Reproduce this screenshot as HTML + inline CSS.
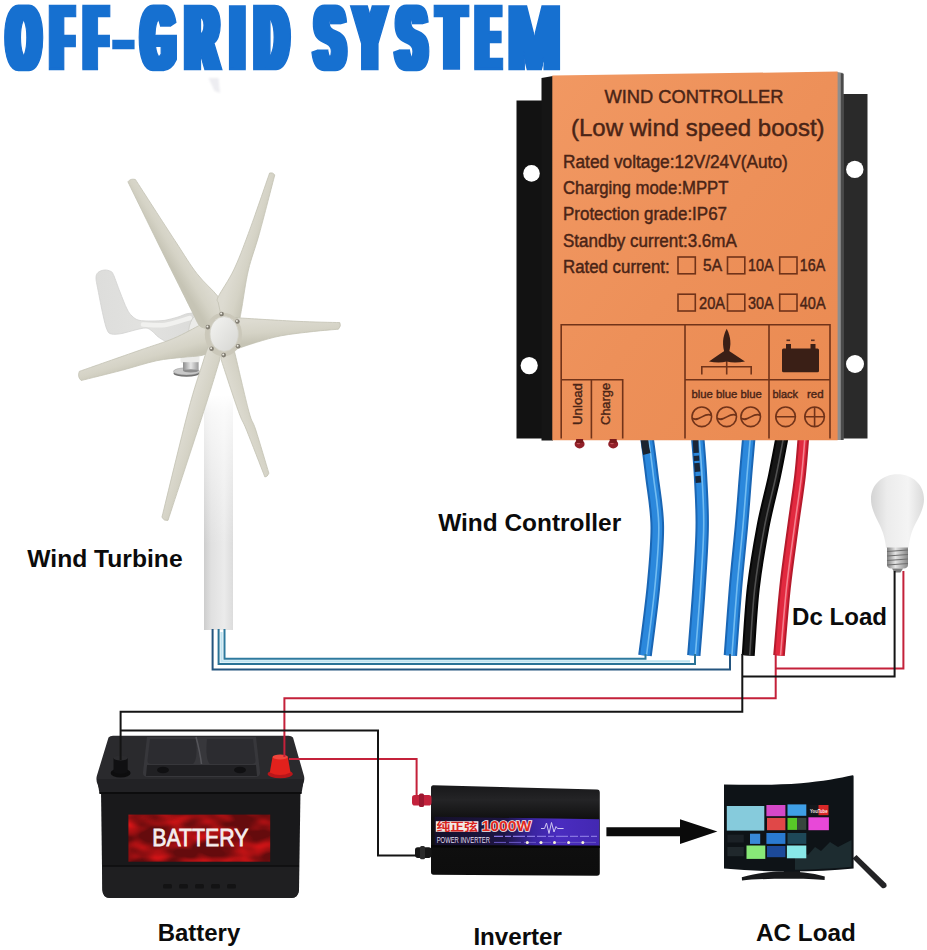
<!DOCTYPE html>
<html lang="en"><head><meta charset="utf-8"><title>Off-Grid System</title>
<style>
html,body{margin:0;padding:0;background:#fff;}
body{width:927px;height:950px;overflow:hidden;font-family:"Liberation Sans",sans-serif;}
svg{display:block}
.lbl{font-family:"Liberation Sans",sans-serif;font-weight:700;font-size:24px;fill:#0b0b0b}
.ct{font-family:"Liberation Sans",sans-serif;fill:#4a2416;stroke:#4a2416;stroke-width:0.45px}
</style></head><body>
<svg width="927" height="950" viewBox="0 0 927 950">
<defs>
<linearGradient id="tower" x1="0" x2="1" y1="0" y2="0"><stop offset="0" stop-color="#cdcdcd"/><stop offset="0.25" stop-color="#e0e0e0"/><stop offset="0.7" stop-color="#ebebeb"/><stop offset="1" stop-color="#dcdcdc"/></linearGradient>
<linearGradient id="towerfade" x1="0" x2="0" y1="0" y2="1"><stop offset="0" stop-color="#fff" stop-opacity="1"/><stop offset="0.12" stop-color="#fff" stop-opacity="0.75"/><stop offset="1" stop-color="#fff" stop-opacity="0"/></linearGradient>
<linearGradient id="orange" x1="0" x2="1" y1="0" y2="1"><stop offset="0" stop-color="#f19862"/><stop offset="0.5" stop-color="#ed9059"/><stop offset="1" stop-color="#ea8a51"/></linearGradient>
<linearGradient id="bulbg" x1="0" x2="1" y1="0" y2="0"><stop offset="0" stop-color="#d4d4d4"/><stop offset="0.3" stop-color="#ececec"/><stop offset="0.7" stop-color="#f4f4f4"/><stop offset="1" stop-color="#dadada"/></linearGradient>
<linearGradient id="screw" x1="0" x2="1" y1="0" y2="0"><stop offset="0" stop-color="#808080"/><stop offset="0.4" stop-color="#e4e4e4"/><stop offset="1" stop-color="#868686"/></linearGradient>
<linearGradient id="batlabel" x1="0" x2="1" y1="0" y2="0"><stop offset="0" stop-color="#7c1014"/><stop offset="0.25" stop-color="#b41a1e"/><stop offset="0.5" stop-color="#9a1418"/><stop offset="0.8" stop-color="#c82226"/><stop offset="1" stop-color="#8a1216"/></linearGradient>
<linearGradient id="stripe" x1="0" x2="1" y1="0" y2="0"><stop offset="0" stop-color="#15102a"/><stop offset="0.42" stop-color="#1d1544"/><stop offset="0.6" stop-color="#3b25a2"/><stop offset="0.75" stop-color="#4a2cc0"/><stop offset="1" stop-color="#4328b2"/></linearGradient>
<linearGradient id="hub" x1="0" x2="1" y1="0" y2="1"><stop offset="0" stop-color="#f4f4f2"/><stop offset="1" stop-color="#d6d6d2"/></linearGradient>
<linearGradient id="silver" x1="0" x2="1" y1="0" y2="0"><stop offset="0" stop-color="#8c8c8c"/><stop offset="0.5" stop-color="#e6e6e6"/><stop offset="1" stop-color="#9a9a9a"/></linearGradient>
<linearGradient id="tailg" x1="0" x2="1" y1="0" y2="0"><stop offset="0" stop-color="#dddddb"/><stop offset="0.45" stop-color="#e2e2e0"/><stop offset="1" stop-color="#dadad8"/></linearGradient>
<linearGradient id="invg" x1="0" x2="0" y1="0" y2="1"><stop offset="0" stop-color="#18181a"/><stop offset="0.16" stop-color="#242426"/><stop offset="0.36" stop-color="#111"/><stop offset="1" stop-color="#0d0d0d"/></linearGradient>

<filter id="fat" x="-5%" y="-20%" width="110%" height="140%"><feMorphology operator="dilate" radius="4.6 0"/></filter>
<filter id="mottle" x="0" y="0" width="1" height="1" color-interpolation-filters="sRGB"><feTurbulence type="fractalNoise" baseFrequency="0.035 0.07" numOctaves="2" seed="7" result="n"/><feColorMatrix in="n" type="matrix" values="0 0 0 0 0.86  0 0 0 0 0.08  0 0 0 0 0.09  2.3 0 0 0 -0.85" result="r"/><feComposite in="r" in2="SourceGraphic" operator="atop"/></filter>
<filter id="soft" x="-50%" y="-50%" width="200%" height="200%"><feGaussianBlur stdDeviation="1.3"/></filter>
</defs>
<rect width="927" height="950" fill="#fff"/>
<text id="title" filter="url(#fat)" y="68.8" stroke="#186fd0" stroke-width="2.4" stroke-linejoin="miter" font-family="Liberation Sans, sans-serif" font-weight="700" font-size="90.99" fill="#186fd0"><tspan x="8.04" textLength="31.46" lengthAdjust="spacingAndGlyphs">O</tspan><tspan x="52.01" textLength="20.01" lengthAdjust="spacingAndGlyphs">F</tspan><tspan x="85.44" textLength="20.61" lengthAdjust="spacingAndGlyphs">F</tspan><tspan x="116.57" dy="-9.3" font-size="60" textLength="13.90" lengthAdjust="spacingAndGlyphs">-</tspan><tspan x="142.54" dy="9.3" textLength="31.47" lengthAdjust="spacingAndGlyphs">G</tspan><tspan x="186.61" textLength="31.09" lengthAdjust="spacingAndGlyphs">R</tspan><tspan x="231.80" textLength="11.20" lengthAdjust="spacingAndGlyphs">I</tspan><tspan x="255.87" textLength="31.57" lengthAdjust="spacingAndGlyphs">D</tspan> <tspan x="315.78" textLength="28.17" lengthAdjust="spacingAndGlyphs">S</tspan><tspan x="354.95" textLength="29.56" lengthAdjust="spacingAndGlyphs">Y</tspan><tspan x="397.48" textLength="27.95" lengthAdjust="spacingAndGlyphs">S</tspan><tspan x="438.74" textLength="25.52" lengthAdjust="spacingAndGlyphs">T</tspan><tspan x="477.54" textLength="21.52" lengthAdjust="spacingAndGlyphs">E</tspan><tspan x="509.28" font-weight="400" textLength="49.93" lengthAdjust="spacingAndGlyphs">M</tspan></text>
<path d="M208.5 78 H218.5 L220 93 L214.5 91 Z" fill="#ededf1" filter="url(#soft)"/>
<g id="turbine">
<rect x="204" y="396" width="29" height="234" fill="url(#tower)"/>
<rect x="203" y="395" width="31" height="150" fill="url(#towerfade)"/>
<path d="M96.0 278.0 C96.0 275.1 96.6 273.8 98.0 272.5 C99.4 271.2 102.3 270.2 104.5 270.0 C106.7 269.8 109.5 270.6 111.0 271.5 C112.5 272.4 112.3 272.1 113.8 275.5 C115.3 278.9 117.8 286.4 120.0 292.0 C122.2 297.6 125.0 305.0 127.0 309.0 C129.0 313.0 130.0 314.1 132.0 316.0 C134.0 317.9 135.7 319.5 139.0 320.3 C142.3 321.1 147.7 321.0 152.0 321.0 C156.3 321.0 160.7 321.0 165.0 320.3 C169.3 319.6 174.0 318.1 178.0 317.0 C182.0 315.9 184.8 313.6 189.0 313.4 C193.2 313.2 200.5 309.9 203.0 316.0 C205.5 322.1 207.8 344.8 204.0 350.0 C200.2 355.2 186.2 348.4 180.0 347.0 C173.8 345.6 170.3 343.5 166.6 341.8 C162.9 340.1 160.4 338.5 158.0 336.7 C155.6 334.9 154.0 332.4 152.0 331.0 C150.0 329.6 148.8 328.2 146.0 328.0 C143.2 327.8 139.0 329.1 135.0 330.0 C131.0 330.9 125.9 332.8 122.0 333.5 C118.1 334.2 113.9 334.6 111.4 334.0 C108.9 333.4 108.4 332.9 107.0 329.7 C105.6 326.5 104.5 321.6 103.0 315.0 C101.5 308.4 99.2 296.2 98.0 290.0 C96.8 283.8 96.0 280.9 96.0 278.0 Z" fill="url(#tailg)" stroke="#d2d2d0" stroke-width="0.8"/>
<path d="M143.0 324.5 C146.7 324.6 157.2 326.1 165.0 325.0 C172.8 323.9 185.8 319.2 190.0 318.0" fill="none" stroke="#f1f1ef" stroke-width="4.5" stroke-linecap="round"/>
<ellipse cx="201" cy="334" rx="12.5" ry="21" fill="#ebebe9" stroke="#cfcfcb" stroke-width="0.9"/>
<rect x="180.5" y="355" width="19" height="8" rx="2" fill="#ececea"/>
<ellipse cx="186.5" cy="373.2" rx="13" ry="3.6" fill="#6f6f6f"/>
<ellipse cx="186.5" cy="371.4" rx="13" ry="3.6" fill="#c9c9c9" stroke="#9a9a9a" stroke-width="0.5"/>
<rect x="183" y="362.2" width="15.6" height="8.6" fill="url(#silver)"/>
<ellipse cx="190.8" cy="370.8" rx="7.8" ry="1.6" fill="#8d8d8d"/>
<linearGradient id="bg0" gradientUnits="userSpaceOnUse" x1="178.5" y1="336.0" x2="184.6" y2="357.2"><stop offset="0" stop-color="#dddbd1"/><stop offset="0.55" stop-color="#d5d3c6"/><stop offset="1" stop-color="#c6c4b5"/></linearGradient>
<path d="M208.0 322.0 C206.8 322.4 206.7 321.9 201.0 324.6 C195.3 327.3 183.9 334.1 173.6 338.4 C163.3 342.7 154.7 345.0 139.0 350.5 C123.3 356.0 89.2 367.9 79.3 371.4 Q77.2 377.0 81.2 380.5 C88.0 378.8 109.3 373.6 121.8 370.3 C134.3 367.0 146.2 363.0 156.3 360.8 C166.4 358.6 174.8 358.3 182.2 357.4 C189.6 356.5 196.4 356.5 201.0 355.6 C205.6 354.7 208.5 352.6 210.0 352.0 L225.0 334.0 Z" fill="url(#bg0)" stroke="#c3c1b3" stroke-width="0.8" stroke-linejoin="round"/>
<linearGradient id="bg1" gradientUnits="userSpaceOnUse" x1="206.4" y1="282.3" x2="187.6" y2="293.7"><stop offset="0" stop-color="#dddbd1"/><stop offset="0.55" stop-color="#d5d3c6"/><stop offset="1" stop-color="#c6c4b5"/></linearGradient>
<path d="M204.0 328.0 C203.2 327.5 200.8 327.6 198.9 325.0 C197.0 322.4 195.5 318.3 192.4 312.2 C189.3 306.1 185.5 298.5 180.5 288.4 C175.5 278.3 171.0 269.5 162.2 251.7 C153.4 233.9 133.6 193.5 127.9 181.8 Q130.4 178.2 135.4 179.5 C142.0 189.7 164.7 225.0 175.0 240.7 C185.3 256.4 189.8 264.4 197.0 273.7 C204.2 283.0 212.3 289.2 218.1 296.6 C223.9 304.0 229.7 314.4 232.0 318.0 L225.0 334.0 Z" fill="url(#bg1)" stroke="#c3c1b3" stroke-width="0.8" stroke-linejoin="round"/>
<linearGradient id="bg2" gradientUnits="userSpaceOnUse" x1="228.6" y1="282.9" x2="249.7" y2="289.1"><stop offset="0" stop-color="#dddbd1"/><stop offset="0.55" stop-color="#d5d3c6"/><stop offset="1" stop-color="#c6c4b5"/></linearGradient>
<path d="M218.1 302.0 C218.1 301.1 215.7 301.9 218.3 296.6 C220.9 291.3 228.7 280.5 233.7 270.0 C238.7 259.5 242.4 249.6 248.4 233.4 C254.4 217.2 266.1 183.1 269.6 173.0 Q272.8 172.1 274.8 174.9 C272.2 184.7 263.8 217.6 259.4 233.4 C255.0 249.2 251.3 257.8 248.4 270.0 C245.5 282.2 243.4 298.8 242.0 306.7 C240.6 314.6 240.4 315.9 240.1 317.7 L225.0 334.0 Z" fill="url(#bg2)" stroke="#c3c1b3" stroke-width="0.8" stroke-linejoin="round"/>
<linearGradient id="bg3" gradientUnits="userSpaceOnUse" x1="258.5" y1="320.6" x2="260.0" y2="342.5"><stop offset="0" stop-color="#dddbd1"/><stop offset="0.55" stop-color="#d5d3c6"/><stop offset="1" stop-color="#c6c4b5"/></linearGradient>
<path d="M238.0 317.5 C238.4 317.6 230.7 317.4 240.5 318.0 C250.3 318.6 280.4 320.5 297.0 321.3 C313.6 322.1 332.7 322.4 339.8 322.6 Q341.5 326.0 338.4 329.2 C334.2 329.6 322.9 330.4 313.3 331.5 C303.7 332.6 290.4 334.0 281.0 335.8 C271.6 337.6 264.3 340.0 256.6 342.3 C248.9 344.6 238.4 348.4 234.8 349.6 L225.0 334.0 Z" fill="url(#bg3)" stroke="#c3c1b3" stroke-width="0.8" stroke-linejoin="round"/>
<linearGradient id="bg4" gradientUnits="userSpaceOnUse" x1="227.0" y1="379.5" x2="248.1" y2="373.2"><stop offset="0" stop-color="#dddbd1"/><stop offset="0.55" stop-color="#d5d3c6"/><stop offset="1" stop-color="#c6c4b5"/></linearGradient>
<path d="M234.8 352.8 C237.2 362.6 245.4 398.7 248.9 411.6 C252.4 424.5 252.5 419.7 255.8 430.0 C259.1 440.3 266.7 466.0 268.9 473.2 Q267.5 476.9 264.9 477.0 C261.8 469.2 250.9 440.9 246.5 430.0 C242.1 419.1 242.8 423.4 238.5 411.6 C234.2 399.8 223.9 368.0 221.0 359.3 L225.0 334.0 Z" fill="url(#bg4)" stroke="#c3c1b3" stroke-width="0.8" stroke-linejoin="round"/>
<linearGradient id="bg5" gradientUnits="userSpaceOnUse" x1="196.5" y1="386.1" x2="217.4" y2="392.9"><stop offset="0" stop-color="#dddbd1"/><stop offset="0.55" stop-color="#d5d3c6"/><stop offset="1" stop-color="#c6c4b5"/></linearGradient>
<path d="M219.4 361.0 C216.8 369.4 212.3 385.0 203.7 411.6 C195.1 438.2 173.9 502.3 168.0 520.4 Q164.2 521.2 161.9 517.4 C166.2 499.8 181.2 437.5 188.0 411.6 C194.8 385.7 199.7 372.8 203.0 362.0 C206.3 351.2 207.2 349.5 208.0 347.0 L225.0 334.0 Z" fill="url(#bg5)" stroke="#c3c1b3" stroke-width="0.8" stroke-linejoin="round"/>
<ellipse cx="223.4" cy="334.5" rx="18.6" ry="21.8" fill="#cbc8ba"/>
<circle cx="221.6" cy="314.1" r="2.3" fill="#817d72"/>
<circle cx="221.1" cy="313.5" r="1" fill="#efede4"/>
<circle cx="237.4" cy="321.5" r="2.3" fill="#817d72"/>
<circle cx="236.9" cy="320.9" r="1" fill="#efede4"/>
<circle cx="238.1" cy="346.3" r="2.3" fill="#817d72"/>
<circle cx="237.6" cy="345.7" r="1" fill="#efede4"/>
<circle cx="223.7" cy="355.1" r="2.3" fill="#817d72"/>
<circle cx="223.2" cy="354.5" r="1" fill="#efede4"/>
<circle cx="211.6" cy="348.8" r="2.3" fill="#817d72"/>
<circle cx="211.1" cy="348.2" r="1" fill="#efede4"/>
<circle cx="207.9" cy="327.1" r="2.3" fill="#817d72"/>
<circle cx="207.4" cy="326.5" r="1" fill="#efede4"/>
<ellipse cx="224.2" cy="334" rx="14.2" ry="17.4" fill="url(#hub)" stroke="#d2d0c6" stroke-width="0.8"/>
</g>
<g id="wires" fill="none" stroke-linecap="butt">
<path d="M647.0 438.0 C647.8 444.3 650.2 461.2 651.9 476.0 C653.6 490.8 657.1 507.9 657.3 526.6 C657.5 545.3 655.3 566.5 653.3 588.0 C651.2 609.5 646.4 644.2 645.0 655.5" stroke="#1a66b4" stroke-width="13.6"/>
<path d="M647.0 438.0 C647.8 444.3 650.2 461.2 651.9 476.0 C653.6 490.8 657.1 507.9 657.3 526.6 C657.5 545.3 655.3 566.5 653.3 588.0 C651.2 609.5 646.4 644.2 645.0 655.5" stroke="#2b88dc" stroke-width="9.6"/>
<path d="M647.0 438.0 C647.8 444.3 650.2 461.2 651.9 476.0 C653.6 490.8 657.1 507.9 657.3 526.6 C657.5 545.3 655.3 566.5 653.3 588.0 C651.2 609.5 646.4 644.2 645.0 655.5" stroke="#7fc6f5" stroke-width="1.6" transform="translate(1.5 0)" stroke-opacity="0.85"/>
<path d="M697.7 438.0 C698.2 444.3 699.8 461.2 700.5 476.0 C701.2 490.8 702.5 507.9 702.2 526.6 C702.0 545.3 700.4 566.5 699.0 588.0 C697.6 609.5 694.7 644.2 693.8 655.5" stroke="#1a66b4" stroke-width="13.4"/>
<path d="M697.7 438.0 C698.2 444.3 699.8 461.2 700.5 476.0 C701.2 490.8 702.5 507.9 702.2 526.6 C702.0 545.3 700.4 566.5 699.0 588.0 C697.6 609.5 694.7 644.2 693.8 655.5" stroke="#2b88dc" stroke-width="9.4"/>
<path d="M697.7 438.0 C698.2 444.3 699.8 461.2 700.5 476.0 C701.2 490.8 702.5 507.9 702.2 526.6 C702.0 545.3 700.4 566.5 699.0 588.0 C697.6 609.5 694.7 644.2 693.8 655.5" stroke="#7fc6f5" stroke-width="1.6" transform="translate(1.5 0)" stroke-opacity="0.85"/>
<path d="M748.8 438.0 C748.2 444.3 746.7 461.2 745.5 476.0 C744.3 490.8 743.1 507.9 741.4 526.6 C739.7 545.3 737.3 566.5 735.5 588.0 C733.7 609.5 731.2 644.2 730.4 655.5" stroke="#1a66b4" stroke-width="13.4"/>
<path d="M748.8 438.0 C748.2 444.3 746.7 461.2 745.5 476.0 C744.3 490.8 743.1 507.9 741.4 526.6 C739.7 545.3 737.3 566.5 735.5 588.0 C733.7 609.5 731.2 644.2 730.4 655.5" stroke="#2b88dc" stroke-width="9.4"/>
<path d="M748.8 438.0 C748.2 444.3 746.7 461.2 745.5 476.0 C744.3 490.8 743.1 507.9 741.4 526.6 C739.7 545.3 737.3 566.5 735.5 588.0 C733.7 609.5 731.2 644.2 730.4 655.5" stroke="#7fc6f5" stroke-width="1.6" transform="translate(1.5 0)" stroke-opacity="0.85"/>
<path d="M781.9 438.0 C780.7 444.3 777.6 461.2 774.5 476.0 C771.4 490.8 766.5 507.9 763.0 526.6 C759.5 545.3 755.8 566.5 753.3 588.0 C750.8 609.5 749.1 644.2 748.2 655.5" stroke="#050505" stroke-width="13.0"/>
<path d="M781.9 438.0 C780.7 444.3 777.6 461.2 774.5 476.0 C771.4 490.8 766.5 507.9 763.0 526.6 C759.5 545.3 755.8 566.5 753.3 588.0 C750.8 609.5 749.1 644.2 748.2 655.5" stroke="#161616" stroke-width="9.0"/>
<path d="M781.9 438.0 C780.7 444.3 777.6 461.2 774.5 476.0 C771.4 490.8 766.5 507.9 763.0 526.6 C759.5 545.3 755.8 566.5 753.3 588.0 C750.8 609.5 749.1 644.2 748.2 655.5" stroke="#5a5a5a" stroke-width="1.6" transform="translate(1.5 0)" stroke-opacity="0.85"/>
<path d="M803.4 438.0 C802.8 444.3 801.7 461.2 800.0 476.0 C798.3 490.8 795.5 507.9 793.0 526.6 C790.5 545.3 787.3 566.5 785.0 588.0 C782.7 609.5 780.0 644.2 779.0 655.5" stroke="#b51a2c" stroke-width="11.6"/>
<path d="M803.4 438.0 C802.8 444.3 801.7 461.2 800.0 476.0 C798.3 490.8 795.5 507.9 793.0 526.6 C790.5 545.3 787.3 566.5 785.0 588.0 C782.7 609.5 780.0 644.2 779.0 655.5" stroke="#e2293f" stroke-width="7.6"/>
<path d="M803.4 438.0 C802.8 444.3 801.7 461.2 800.0 476.0 C798.3 490.8 795.5 507.9 793.0 526.6 C790.5 545.3 787.3 566.5 785.0 588.0 C782.7 609.5 780.0 644.2 779.0 655.5" stroke="#f7919c" stroke-width="1.6" transform="translate(1.5 0)" stroke-opacity="0.85"/>
<path d="M644.5 440 C645 445 645.6 449 646.8 454" stroke="#1b2430" stroke-width="7.5"/>
<path d="M695.6 440 C696 455 697.4 470 699 489" stroke="#1a2638" stroke-width="5.5" stroke-dasharray="13 3 5 2 9 4 7 30"/>
</g>
<g id="controller">
<path d="M516.5 100.5 H545 V438.6 H516.5 Z" fill="#121212"/>
<path d="M841 94 H867.5 V438.6 H841 Z" fill="#2a2a2a"/>
<path d="M541.5 78 L553 76 V440.5 H541.5 Z" fill="#151515"/>
<path d="M837 72 L843.3 73 V440 H837 Z" fill="#8e8e8e"/>
<path d="M840.8 73 L843.6 74 V440 H840.8 Z" fill="#4a4a4a"/>
<path d="M552.3 75.5 L837.6 71.6 V440.3 H552.3 Z" fill="url(#orange)"/>
<circle cx="531.5" cy="173.4" r="8.3" fill="#fff"/>
<circle cx="529.2" cy="365.6" r="8.6" fill="#fff"/>
<circle cx="854.8" cy="169.4" r="8.7" fill="#fff"/>
<circle cx="855" cy="364" r="9" fill="#fff"/>
<ellipse cx="579.6" cy="444" rx="5" ry="4.4" fill="#93212a"/>
<ellipse cx="578.4" cy="443" rx="1.8" ry="1.3" fill="#c2545a"/>
<rect x="576.1" y="439" width="7" height="4" fill="#7a1a1c"/>
<ellipse cx="613.2" cy="444" rx="5" ry="4.4" fill="#93212a"/>
<ellipse cx="612.0" cy="443" rx="1.8" ry="1.3" fill="#c2545a"/>
<rect x="609.7" y="439" width="7" height="4" fill="#7a1a1c"/>
<text class="ct" x="604.4" y="102.7" font-size="19.0" textLength="179.1" lengthAdjust="spacingAndGlyphs">WIND CONTROLLER</text>
<text class="ct" x="571.0" y="136.0" font-size="23.8" textLength="253.6" lengthAdjust="spacingAndGlyphs">(Low wind speed boost)</text>
<text class="ct" x="563.0" y="168.2" font-size="17.6" textLength="224.8" lengthAdjust="spacingAndGlyphs">Rated voltage:12V/24V(Auto)</text>
<text class="ct" x="563.0" y="194.3" font-size="17.6" textLength="165.5" lengthAdjust="spacingAndGlyphs">Charging mode:MPPT</text>
<text class="ct" x="563.0" y="220.4" font-size="17.6" textLength="164.0" lengthAdjust="spacingAndGlyphs">Protection grade:IP67</text>
<text class="ct" x="563.0" y="246.5" font-size="17.6" textLength="173.8" lengthAdjust="spacingAndGlyphs">Standby current:3.6mA</text>
<text class="ct" x="563.0" y="272.5" font-size="17.6" textLength="106.7" lengthAdjust="spacingAndGlyphs">Rated current:</text>
<text class="ct" x="703.0" y="271.4" font-size="17.0" textLength="19.0" lengthAdjust="spacingAndGlyphs">5A</text>
<text class="ct" x="748.0" y="271.4" font-size="17.0" textLength="25.7" lengthAdjust="spacingAndGlyphs">10A</text>
<text class="ct" x="799.8" y="271.4" font-size="17.0" textLength="25.4" lengthAdjust="spacingAndGlyphs">16A</text>
<text class="ct" x="699.0" y="309.0" font-size="17.0" textLength="26.0" lengthAdjust="spacingAndGlyphs">20A</text>
<text class="ct" x="748.0" y="309.0" font-size="17.0" textLength="25.7" lengthAdjust="spacingAndGlyphs">30A</text>
<text class="ct" x="799.8" y="309.0" font-size="17.0" textLength="25.8" lengthAdjust="spacingAndGlyphs">40A</text>
<g fill="none" stroke="#713319" stroke-width="1.6">
<rect x="678.0" y="257" width="17.3" height="16.8"/>
<rect x="678.0" y="294.2" width="17.3" height="16.8"/>
<rect x="727.5" y="257" width="17.3" height="16.8"/>
<rect x="727.5" y="294.2" width="17.3" height="16.8"/>
<rect x="779.7" y="257" width="17.3" height="16.8"/>
<rect x="779.7" y="294.2" width="17.3" height="16.8"/>
<path d="M561.2 438.5 V324.7 H830 V438.5 M685 324.7 V438.5 M769 324.7 V438.5 M561.2 379.8 H622.7 V438.5 M591.4 379.8 V438.5 M685 379.8 H830"/>
<circle cx="701.8" cy="416.8" r="9.8"/>
<circle cx="726.7" cy="416.8" r="9.8"/>
<circle cx="750.7" cy="416.8" r="9.8"/>
<circle cx="785.6" cy="416.8" r="9.8"/>
<circle cx="814.6" cy="416.8" r="9.8"/>
<path d="M692.2 418.2 C698.8 423 704.8 411 711.4 415.4"/>
<path d="M717.1 418.2 C723.7 423 729.7 411 736.3 415.4"/>
<path d="M741.1 418.2 C747.7 423 753.7 411 760.3 415.4"/>
<path d="M775.8 416.8 H795.4 M804.8 416.8 H824.4 M814.6 407 V426.6"/>
<path d="M701.8 374.6 V366.8 H751.2 V374.6 M726.7 354 V374.6"/>
</g>
<path d="M726.7 328.8 C731 337 731.6 345 728.2 355 L725.2 355 C721.8 345 722.4 337 726.7 328.8 Z" fill="#3a1f16"/>
<path d="M726.7 349.5 C722 352.5 715 357.5 709 361.4 C715 362.8 721.5 362.8 726.7 361.6 C732 362.8 738.5 362.8 745 361.4 C738.5 357.5 731.5 352.5 726.7 349.5 Z" fill="#3a1f16"/>
<rect x="782" y="348.5" width="37" height="23.8" rx="1.5" fill="#3a1f16"/>
<rect x="786" y="344" width="5" height="5" fill="#3a1f16"/><rect x="810.5" y="344" width="5" height="5" fill="#3a1f16"/>
<rect x="786.5" y="339.5" width="3.6" height="1.6" fill="#5a3020"/><rect x="811" y="339.5" width="3.6" height="1.6" fill="#5a3020"/>
<text class="ct" x="691.4" y="398.3" font-size="11.5" textLength="70.5" lengthAdjust="spacingAndGlyphs" style="stroke-width:0.4px">blue blue blue</text>
<text class="ct" x="772.5" y="398.3" font-size="11.5" textLength="25.5" lengthAdjust="spacingAndGlyphs" style="stroke-width:0.4px">black</text>
<text class="ct" x="807.0" y="398.3" font-size="11.5" textLength="16.6" lengthAdjust="spacingAndGlyphs" style="stroke-width:0.4px">red</text>
<text class="ct" style="stroke-width:0.4px" font-size="13" textLength="42" lengthAdjust="spacingAndGlyphs" transform="translate(581.6 425) rotate(-90)">Unload</text>
<text class="ct" style="stroke-width:0.4px" font-size="13" textLength="42" lengthAdjust="spacingAndGlyphs" transform="translate(610.4 425) rotate(-90)">Charge</text>
</g>
<g id="bulb">
<path d="M897.5 474.2 C913 474.2 924 485 924 499 C924 512 915 522 911.5 533 C910 538 909 543 908.6 548 H886 C885.6 543 884.6 538 883 533 C879.5 522 871 512 871 499 C871 485 882 474.2 897.5 474.2 Z" fill="url(#bulbg)"/>
<path d="M887 547.5 H908 V565 C908 567 906 568.5 904 568.5 H891 C889 568.5 887 567 887 565 Z" fill="url(#screw)"/>
<path d="M887 551.5 L908 550.0" stroke="#6e6e6e" stroke-width="1.2"/>
<path d="M887 556.0 L908 554.5" stroke="#6e6e6e" stroke-width="1.2"/>
<path d="M887 560.5 L908 559.0" stroke="#6e6e6e" stroke-width="1.2"/>
<path d="M887 565.0 L908 563.5" stroke="#6e6e6e" stroke-width="1.2"/>
<path d="M892 568.5 H903 L900.5 572.5 H894.5 Z" fill="#7c7c7c"/>
</g>
<g id="battery">
<path d="M108.5 737.5 Q110 735.8 113 735.8 H288.5 Q291.5 735.8 293 737.5 L304 776 Q305 780 303 784 L300.5 792 H100.5 L97.5 784 Q95.8 780 96.8 776 Z" fill="#2a2a2d"/>
<path d="M101 790 H300.5 L299 890 Q298.7 897.8 291 898 H110 Q102.6 897.8 102.3 890 Z" fill="#19191b"/>
<path d="M97 779 H304 L301.5 793.5 H99.5 Z" fill="#222225"/>
<path d="M99.5 793 H301.5" stroke="#0c0c0d" stroke-width="2"/>
<path d="M102.5 866 H299 L298.8 890 Q298.5 897.8 291 898 H110 Q102.8 897.8 102.5 890 Z" fill="#1f1f21"/>
<path d="M102.5 866 H299" stroke="#0e0e0f" stroke-width="1.4"/>
<path d="M147 737 H256 L260 772 Q260.5 777 255 777 H148 Q142.5 777 143 772 Z" fill="#37373b"/>
<path d="M150 739 H196 Q198 760 193 764 H151 Q147 764 147.5 760 Z" fill="#2c2c30"/>
<path d="M207 739 H253 L255.5 760 Q256 764 252 764 H210 Q205 760 207 739 Z" fill="#2c2c30"/>
<path d="M196 737 Q200 752 201.5 764" stroke="#55555a" stroke-width="1.5" fill="none"/>
<path d="M147 765 H256 L257 776 H146 Z" fill="#202023"/>
<ellipse cx="163" cy="770" rx="6" ry="3.2" fill="#101012"/><ellipse cx="240" cy="770" rx="6" ry="3.2" fill="#101012"/>
<ellipse cx="120.6" cy="773" rx="10" ry="4.5" fill="#0d0d0e"/>
<path d="M113.5 758 H127.7 V772 Q120.6 776 113.5 772 Z" fill="#101012"/>
<ellipse cx="120.6" cy="758" rx="7.1" ry="2.6" fill="#2c2c2f"/>
<ellipse cx="280.2" cy="774" rx="12.6" ry="4.2" fill="#b8161a"/>
<path d="M272.5 757 Q280 753.5 287.8 757 L290.5 772.5 Q280 777.5 269.8 772.5 Z" fill="#e2211c"/>
<ellipse cx="280.2" cy="757" rx="7.6" ry="2.4" fill="#f0463c"/>
<rect x="128.4" y="814.6" width="141.8" height="47.1" fill="#650b0d" filter="url(#mottle)"/>
<text x="152.3" y="846.4" font-family="Liberation Sans, sans-serif" font-size="24" fill="#f6eeee" stroke="#f6eeee" stroke-width="0.8" textLength="96" lengthAdjust="spacingAndGlyphs">BATTERY</text>
<rect x="163" y="884" width="9" height="4.5" rx="1.5" fill="#131314"/>
<rect x="179" y="884" width="9" height="4.5" rx="1.5" fill="#131314"/>
<rect x="195" y="884" width="9" height="4.5" rx="1.5" fill="#131314"/>
<rect x="211" y="884" width="9" height="4.5" rx="1.5" fill="#131314"/>
<rect x="227" y="884" width="9" height="4.5" rx="1.5" fill="#131314"/>
</g>
<g id="inverter">
<path d="M433.5 785.3 L597 789.6 Q599.8 789.7 599.8 792.5 V873 Q599.8 875.8 597 875.8 L433.5 874.7 Q431 874.7 431 872 V788 Q431 785.2 433.5 785.3 Z" fill="url(#invg)"/>
<path d="M434.6 816.8 L599.4 819.2 V845.8 L434.6 845.2 Z" fill="url(#stripe)"/>
<path d="M431 845.2 L599.8 845.8 V848 L431 847.4 Z" fill="#060606"/>
<rect x="412" y="795" width="19.5" height="10.6" rx="2.8" fill="#c3223c"/><rect x="419" y="793.6" width="5" height="13.4" rx="1.5" fill="#9c1730"/>
<rect x="415" y="847.3" width="16.5" height="10.6" rx="2.8" fill="#161616"/><rect x="420" y="846" width="5" height="13.2" rx="1.5" fill="#2b2b2b"/>
<rect x="435.8" y="821.2" width="42.6" height="10.6" fill="#f3e9e6"/>
<text x="436.4" y="830.6" font-family="Liberation Sans, Noto Sans CJK SC, sans-serif" font-weight="700" font-size="11.8" fill="#d8241f" textLength="41.4" lengthAdjust="spacingAndGlyphs">纯正弦</text>
<text x="481.6" y="831.4" font-family="Liberation Sans, sans-serif" font-weight="700" font-size="14.2" fill="#e02a22" stroke="#f6eeee" stroke-width="1.5" paint-order="stroke" textLength="49.6" lengthAdjust="spacingAndGlyphs">1000W</text>
<path d="M541 828.5 H544.5 L546.5 823 L549 833.5 L551.5 822.5 L554 832 L556 826.5 L557.5 828.5 H563.6" fill="none" stroke="#cfc6f2" stroke-width="1"/>
<text x="436.7" y="842.6" font-family="Liberation Sans, sans-serif" font-size="9.4" fill="#e2def0" textLength="53.3" lengthAdjust="spacingAndGlyphs">POWER INVERTER</text>
<path d="M494 836.4 H597" stroke="#8674e0" stroke-width="1.1" stroke-dasharray="9 2 6 2 12 2 8 2"/>
<path d="M494 842.4 H597" stroke="#6a59c4" stroke-width="1" stroke-dasharray="12 3"/>
<circle cx="527.3" cy="842.4" r="1.5" fill="#f6f3d8"/>
<circle cx="541.0" cy="842.4" r="1.5" fill="#f6f3d8"/>
<circle cx="554.5" cy="842.4" r="1.5" fill="#f6f3d8"/>
<circle cx="568.6" cy="842.4" r="1.5" fill="#f6f3d8"/>
<circle cx="582.8" cy="842.4" r="1.5" fill="#f6f3d8"/>
</g>
<path d="M606.4 827.2 H680 V819.2 L717.4 831.6 L680 844 V836.2 H606.4 Z" fill="#0a0a0a"/>
<g id="tv">
<path d="M852.5 858.5 L856.5 855 L886 883.5 Q887.5 886 885.5 887.6 Q883.5 889 881.5 887.4 Z" fill="#242426"/>
<path d="M741.8 877.2 C758 872.4 774 871.4 783.5 871.4 C796 871.4 812 872.4 824.8 876.4 L824.6 880 C808 878.2 760 878.2 742 880.6 Z" fill="#17181a"/>
<rect x="783.8" y="868" width="16.2" height="7" fill="#17181a"/>
<path d="M724 784.5 C750 784.8 775 785.2 801 783.2 C822 781.2 840 778.2 852.6 775.2 Q853.6 775.2 853.6 776.4 V868.6 C815 872.4 770 872.6 724 868.5 Z" fill="#0e1317"/>
<path d="M795 858 L803 852 L808 855 L815 847 L821 851 L830 842 L838 847 L851.5 840 V866.8 C832 868.6 812 869.6 795 869.8 Z" fill="#1d2c30"/>
<rect x="726.8" y="806.0" width="37.5" height="24.6" fill="#86cbdc"/>
<rect x="766.4" y="805.0" width="19.0" height="11.2" fill="#d548c8"/>
<rect x="787.5" y="804.4" width="18.8" height="11.4" fill="#3f9fe6"/>
<rect x="809.4" y="805.0" width="9.5" height="10.2" fill="#14181c"/>
<rect x="818.5" y="805.0" width="10.0" height="10.2" fill="#d82828"/>
<rect x="767.0" y="817.9" width="18.4" height="12.3" fill="#e04848"/>
<rect x="787.5" y="817.9" width="9.6" height="12.0" fill="#58c828"/>
<rect x="797.1" y="817.9" width="9.2" height="12.0" fill="#37463d"/>
<rect x="808.4" y="817.3" width="20.5" height="12.9" fill="#e848d8"/>
<rect x="727.4" y="834.7" width="16.4" height="7.8" fill="#1b2126"/>
<rect x="750.0" y="833.7" width="10.2" height="10.2" fill="#3888d8"/>
<rect x="766.4" y="833.0" width="19.0" height="10.9" fill="#2a7ad0"/>
<rect x="787.5" y="833.0" width="18.8" height="10.9" fill="#1e4858"/>
<rect x="727.4" y="847.0" width="16.4" height="9.2" fill="#20282c"/>
<rect x="746.5" y="845.5" width="18.8" height="13.4" fill="#88e878"/>
<rect x="767.0" y="846.0" width="18.4" height="11.2" fill="#1c4a9a"/>
<rect x="786.9" y="845.5" width="19.4" height="12.8" fill="#88e8e8"/>
<text x="810" y="812.6" font-family="Liberation Sans, sans-serif" font-weight="700" font-size="5.8" fill="#fbeaea" textLength="17.6" lengthAdjust="spacingAndGlyphs">YouTube</text>
</g>
<text class="lbl" x="27.3" y="567.4" textLength="155.3" lengthAdjust="spacingAndGlyphs">Wind Turbine</text>
<text class="lbl" x="438.2" y="530.6" textLength="183" lengthAdjust="spacingAndGlyphs">Wind Controller</text>
<text class="lbl" x="792" y="624.6" textLength="95" lengthAdjust="spacingAndGlyphs">Dc Load</text>
<text class="lbl" x="157.7" y="941.4" textLength="82.6" lengthAdjust="spacingAndGlyphs">Battery</text>
<text class="lbl" x="473.4" y="944.7" textLength="88.5" lengthAdjust="spacingAndGlyphs">Inverter</text>
<text class="lbl" x="756.1" y="941" textLength="99.7" lengthAdjust="spacingAndGlyphs">AC Load</text>
<g id="thin-lines" fill="none" stroke-width="2" stroke-linejoin="miter">
<path d="M224.5 629 V658.8 H645.5 V654" stroke="#2d7a9e"/>
<path d="M218.6 629 V664 H695 V654" stroke="#2a7397"/>
<path d="M212.6 629 V669.6 H730 V654" stroke="#24557f"/>
<path d="M221.5 632 V661.4 H690" stroke="#bfe3f1" stroke-width="2.2"/>
<path d="M775.7 654 V698.2 H284.4 V757" stroke="#c4213a"/>
<path d="M775.7 668.4 H903.4 V571" stroke="#c4213a"/>
<path d="M289 759 H416.6 V796" stroke="#c4213a"/>
<path d="M742.3 654 V711.8 H120.6 V760" stroke="#141414"/>
<path d="M742.3 676.4 H894.6 V571" stroke="#141414"/>
<path d="M120.6 730.4 H378 V855.6 H418" stroke="#141414"/>
</g>
</svg>
</body></html>
